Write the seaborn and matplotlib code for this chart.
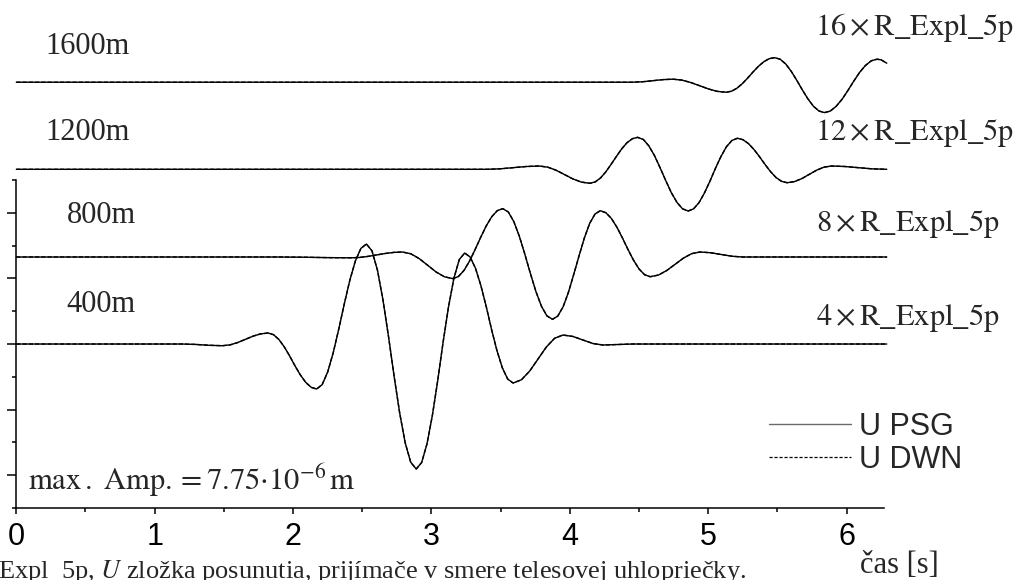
import numpy as np
import pandas as pd
import matplotlib
matplotlib.use("Agg")
import matplotlib.pyplot as plt
from matplotlib.lines import Line2D
from matplotlib.ticker import FixedLocator
import seaborn as sns

# ---------------- data ----------------
distances = ["400m", "800m", "1200m", "1600m"]
factors = [4, 8, 12, 16]
methods = ["U PSG", "U DWN"]
x_ticks = [0, 1, 2, 3, 4, 5, 6]
x_minor = [0.5, 1.5, 2.5, 3.5, 4.5, 5.5]

# time [s] and raw displacement R_Expl_5p [1e-6 m] for each receiver
t_400 = [0.0, 1.20, 1.297, 1.393, 1.49, 1.545, 1.60, 1.655, 1.71, 1.765,
         1.82, 1.859, 1.898, 1.937, 1.976, 2.014, 2.053, 2.092, 2.131,
         2.17, 2.21, 2.25, 2.29, 2.33, 2.37, 2.41, 2.45, 2.49,
         2.53, 2.57, 2.61, 2.65, 2.69, 2.73, 2.77, 2.81, 2.85,
         2.89, 2.929, 2.968, 3.007, 3.046, 3.084, 3.123, 3.162, 3.201,
         3.24, 3.279, 3.318, 3.357, 3.396, 3.434, 3.473, 3.512, 3.551,
         3.59, 3.65, 3.71, 3.77, 3.83, 3.89,
         3.95, 4.023, 4.095, 4.168, 4.24, 4.345, 4.45, 6.29]
u_400 = [0.0, 0.0, -0.026, -0.079, -0.105, -0.053, 0.091, 0.288, 0.485, 0.629,
         0.682, 0.578, 0.276, -0.186, -0.752, -1.356, -1.922, -2.384, -2.686,
         -2.790, -2.520, -1.738, -0.542, 0.922, 2.487, 3.952, 5.148, 5.930,
         6.200, 5.781, 4.568, 2.712, 0.439, -1.989, -4.262, -6.118, -7.331,
         -7.750, -7.348, -6.183, -4.402, -2.219, 0.111, 2.294, 4.075, 5.240,
         5.642, 5.400, 4.699, 3.627, 2.313, 0.911, -0.403, -1.475, -2.176,
         -2.418, -2.218, -1.674, -0.930, -0.186, 0.358,
         0.558, 0.467, 0.248, 0.029, -0.062, -0.031, 0.0, 0.0]

t_800 = [0.0, 1.9, 2.073, 2.247, 2.42, 2.482, 2.543, 2.605, 2.667, 2.728,
         2.79, 2.851, 2.912, 2.973, 3.033, 3.094,
         3.155, 3.195, 3.235, 3.275, 3.315, 3.355, 3.395, 3.435, 3.475,
         3.515, 3.555, 3.595, 3.635, 3.675, 3.715, 3.755, 3.795, 3.835,
         3.875, 3.913, 3.952, 3.990, 4.028, 4.067, 4.105, 4.143, 4.182,
         4.22, 4.26, 4.30, 4.34, 4.38, 4.42, 4.46, 4.50, 4.54,
         4.58, 4.64, 4.70, 4.76, 4.82, 4.88,
         4.94, 5.018, 5.095, 5.173, 5.25, 6.29]
u_800 = [0.0, 0.0, -0.006, -0.019, -0.025, -0.013, 0.020, 0.065, 0.110, 0.143,
         0.155, 0.100, -0.051, -0.257, -0.463, -0.614,
         -0.670, -0.604, -0.416, -0.127, 0.227, 0.604, 0.958, 1.246, 1.435,
         1.500, 1.397, 1.099, 0.643, 0.083, -0.514, -1.073, -1.530, -1.828,
         -1.931, -1.830, -1.537, -1.090, -0.541, 0.045, 0.594, 1.041, 1.334,
         1.435, 1.374, 1.196, 0.924, 0.590, 0.234, -0.099, -0.371, -0.549,
         -0.611, -0.560, -0.419, -0.228, -0.036, 0.104,
         0.155, 0.132, 0.077, 0.023, 0.0, 0.0]

t_1200 = [0.0, 3.40, 3.495, 3.59, 3.685,
          3.78, 3.841, 3.902, 3.963, 4.023, 4.084,
          4.145, 4.183, 4.222, 4.260, 4.298, 4.337, 4.375, 4.413, 4.452,
          4.49, 4.531, 4.571, 4.612, 4.652, 4.693, 4.733, 4.774, 4.814,
          4.855, 4.894, 4.934, 4.973, 5.013, 5.052, 5.092, 5.131, 5.171,
          5.21, 5.25, 5.29, 5.33, 5.37, 5.41, 5.45, 5.49, 5.53,
          5.57, 5.623, 5.677, 5.73, 5.783, 5.837,
          5.89, 5.988, 6.085, 6.183, 6.29]
u_1200 = [0.0, 0.0, 0.010, 0.034, 0.058,
          0.068, 0.044, -0.021, -0.111, -0.200, -0.265,
          -0.289, -0.261, -0.178, -0.052, 0.103, 0.269, 0.424, 0.550, 0.633,
          0.661, 0.616, 0.483, 0.281, 0.032, -0.233, -0.481, -0.684, -0.816,
          -0.862, -0.817, -0.686, -0.486, -0.241, 0.020, 0.265, 0.465, 0.596,
          0.641, 0.613, 0.533, 0.411, 0.262, 0.102, -0.048, -0.170, -0.249,
          -0.277, -0.254, -0.191, -0.104, -0.018, 0.045,
          0.068, 0.058, 0.034, 0.010, 0.0]

t_1600 = [0.0, 4.45, 4.524, 4.598, 4.671,
          4.745, 4.809, 4.873, 4.938, 5.002, 5.066,
          5.13, 5.169, 5.208, 5.247, 5.286, 5.324, 5.363, 5.402, 5.441,
          5.48, 5.52, 5.56, 5.60, 5.64, 5.68, 5.72, 5.76, 5.80,
          5.84, 5.882, 5.924, 5.967, 6.009, 6.051, 6.093, 6.136, 6.178,
          6.22, 6.25, 6.29]
u_1600 = [0.0, 0.0, 0.007, 0.023, 0.040,
          0.047, 0.033, -0.004, -0.054, -0.105, -0.142,
          -0.155, -0.139, -0.092, -0.021, 0.067, 0.160, 0.247, 0.319, 0.365,
          0.381, 0.356, 0.282, 0.168, 0.029, -0.119, -0.258, -0.372, -0.446,
          -0.471, -0.447, -0.374, -0.264, -0.129, 0.015, 0.150, 0.260, 0.332,
          0.357, 0.346, 0.295]

# the DWN solution is indistinguishable from PSG in the picture
psg = {"400m": (t_400, u_400), "800m": (t_800, u_800),
       "1200m": (t_1200, u_1200), "1600m": (t_1600, u_1600)}
dwn = {"400m": (t_400, list(u_400)), "800m": (t_800, list(u_800)),
       "1200m": (t_1200, list(u_1200)), "1600m": (t_1600, list(u_1600))}

# ---------------- layout constants ----------------
W, H = 1022, 580
def fx(px): return px / W
def fy(py): return 1 - py / H

PX_PER_UNIT = 4.032                 # vertical display scale
trace_offset = [40.67, 62.25, 84.0, 105.6]   # baseline of each trace (display units)
TICK = 8.135

rows = []
for name, f, off in zip(distances, factors, trace_offset):
    for meth, src in (("U PSG", psg), ("U DWN", dwn)):
        tt, uu = src[name]
        assert len(tt) == len(uu)
        for a, b in zip(tt, uu):
            rows.append({"t": a, "y": off + f * b, "trace": name, "method": meth})
df = pd.DataFrame(rows)

sns.set_style("ticks")
plt.rcParams["font.family"] = ["Liberation Sans", "DejaVu Sans"]
plt.rcParams["mathtext.fontset"] = "stix"
serif = ["Liberation Serif", "DejaVu Serif"]

fig = plt.figure(figsize=(W / 100, H / 100), dpi=100)
ax = fig.add_axes([fx(16.3), 1 - 508 / H, (884 - 16.3) / W, 508 / H])
ax.set_facecolor("none")
fig.patch.set_facecolor("white")

sns.lineplot(data=df, x="t", y="y", units="trace", hue="method", style="method",
             estimator=None, sort=False, ax=ax, legend=False,
             palette={"U PSG": "black", "U DWN": "black"},
             dashes={"U PSG": "", "U DWN": (3, 1.5)},
             linewidth=1.0, clip_on=False)

ax.set_xlim(0, 6.27)
ax.set_ylim(0, 508 / PX_PER_UNIT)
ax.set_xlabel("")
ax.set_ylabel("")

for s in ("top", "right"):
    ax.spines[s].set_visible(False)
for s in ("left", "bottom"):
    ax.spines[s].set_color("black")
    ax.spines[s].set_linewidth(1.1)
ax.spines["left"].set_bounds(0, 10 * TICK)

ax.xaxis.set_major_locator(FixedLocator(x_ticks))
ax.xaxis.set_minor_locator(FixedLocator(x_minor))
ax.set_xticklabels([str(v) for v in x_ticks])
ax.yaxis.set_major_locator(FixedLocator([TICK * (2 * k + 1) for k in range(5)]))
ax.yaxis.set_minor_locator(FixedLocator([TICK * 2 * k for k in range(6)]))
ax.set_yticklabels([])
ax.tick_params(axis="x", which="major", direction="out", length=4.3, width=1.1,
               color="black", labelsize=22, labelcolor="black", pad=6)
ax.tick_params(axis="x", which="minor", direction="out", length=3.1, width=1.1, color="black")
ax.tick_params(axis="y", which="major", direction="out", length=6.3, width=1.1, color="black")
ax.tick_params(axis="y", which="minor", direction="out", length=2.9, width=1.1, color="black")

# distance labels
left_labels = [("400m", 66, 312), ("800m", 67, 223), ("1200m", 45, 140), ("1600m", 45, 54)]
for txt, px, py in left_labels:
    fig.text(fx(px), fy(py), txt, family=serif, fontsize=22, va="baseline", ha="left")

right_pos = [(816, 325), (816, 231), (815, 140), (815, 35)]
for f, (px, py) in zip(factors, right_pos):
    fig.text(fx(px), fy(py), r"$%d\times\mathrm{R\_Expl\_5p}$" % f,
             fontsize=22, va="baseline", ha="left")

fig.text(fx(28), fy(490), r"$\mathrm{max\,.\ Amp.} = 7.75{\cdot}10^{-6}\,\mathrm{m}$",
         fontsize=22, va="baseline", ha="left")
fig.text(fx(860), fy(573), "čas [s]", family=serif, fontsize=22, va="baseline", ha="left")
fig.text(fx(-2), fy(578), r"Expl_5p, $\mathit{U}$ zložka posunutia, prijímače v smere telesovej uhlopriečky.",
         family=serif, fontsize=19, va="baseline", ha="left")

handles = [Line2D([], [], color="#6a6a6a", lw=1.0),
           Line2D([], [], color="black", lw=0.9, dashes=(2.5, 1.5))]
ax.legend(handles, methods, loc="center left", bbox_to_anchor=(fx(769), fy(443.3)),
          bbox_transform=fig.transFigure, frameon=False,
          prop={"family": "Liberation Sans", "size": 22},
          handlelength=2.68, handletextpad=0.25, labelspacing=0.1,
          borderpad=0, borderaxespad=0)

fig.savefig("out.png", dpi=100, facecolor="white")
